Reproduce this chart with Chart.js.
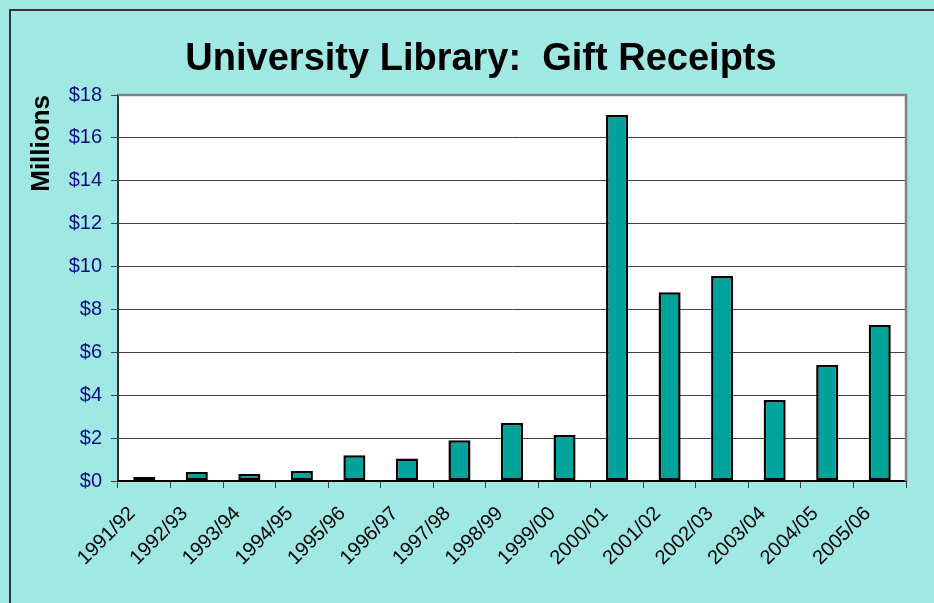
<!DOCTYPE html>
<html>
<head>
<meta charset="utf-8">
<script src="https://cdn.jsdelivr.net/npm/chart.js@4"></script>
<style>
  html, body { margin: 0; padding: 0; background: #a0e8e4; }
  #wrap { width: 934px; height: 603px; position: relative; }
</style>
</head>
<body>
<div id="wrap"><canvas id="canvas" width="934" height="603"></canvas></div>
<script>
// fiscal years and gift receipts in $ millions
var years = ['1991/92', '1992/93', '1993/94', '1994/95', '1995/96', '1996/97', '1997/98',
  '1998/99', '1999/00', '2000/01', '2001/02', '2002/03', '2003/04', '2004/05', '2005/06'];
var gifts = [0.19, 0.42, 0.33, 0.47, 1.2, 1.05, 1.9, 2.7, 2.15, 17.07, 8.8, 9.56, 3.78, 5.41, 7.28];
var yTicks = [0, 2, 4, 6, 8, 10, 12, 14, 16, 18];
var chartTitle = 'University Library:  Gift Receipts';

var bg = '#a0e8e4';
var fam = 'Liberation Sans, Arial, sans-serif';

// paint the background, outer frame, white plot area and the title
var frame = {
  id: 'frame',
  beforeDraw: function (chart) {
    var ctx = chart.ctx, a = chart.chartArea;
    ctx.save();
    ctx.fillStyle = bg;
    ctx.fillRect(0, 0, chart.width, chart.height);
    ctx.strokeStyle = '#333333';
    ctx.lineWidth = 2;
    ctx.beginPath();
    ctx.moveTo(10, chart.height + 5);
    ctx.lineTo(10, 10);
    ctx.lineTo(chart.width + 5, 10);
    ctx.stroke();
    ctx.fillStyle = '#ffffff';
    ctx.fillRect(a.left, a.top, a.right - a.left, a.bottom - a.top);
    ctx.restore();
  },
  afterDraw: function (chart) {
    var ctx = chart.ctx, a = chart.chartArea;
    ctx.save();
    ctx.strokeStyle = '#808080';
    ctx.lineWidth = 2.5;
    ctx.beginPath();
    ctx.moveTo(a.left, a.top);
    ctx.lineTo(a.right, a.top);
    ctx.lineTo(a.right, a.bottom);
    ctx.stroke();
    // title sits a bit right of the plot centre, like the original
    ctx.fillStyle = '#000000';
    ctx.font = 'bold 38px ' + fam;
    ctx.textAlign = 'center';
    ctx.textBaseline = 'alphabetic';
    ctx.fillText(chartTitle, 481, 70);
    ctx.restore();
  }
};

var ctx = document.getElementById('canvas').getContext('2d');
window.giftChart = new Chart(ctx, {
  type: 'bar',
  data: {
    labels: years,
    datasets: [{
      data: gifts,
      backgroundColor: '#00a39c',
      borderColor: '#000000',
      borderWidth: 2.5,
      borderSkipped: false,
      barPercentage: 0.42,
      categoryPercentage: 1.0
    }]
  },
  plugins: [frame],
  options: {
    responsive: false,
    animation: false,
    layout: { padding: { left: 22, right: 28, top: 95, bottom: 0 } },
    plugins: {
      legend: { display: false },
      tooltip: { enabled: false },
      title: { display: false }
    },
    scales: {
      y: {
        min: 0,
        max: 18,
        afterBuildTicks: function (scale) {
          scale.ticks = yTicks.map(function (v) { return { value: v }; });
        },
        afterFit: function (scale) { scale.width = 96; },
        ticks: {
          color: '#0a0a8a',
          font: { family: fam, size: 20 },
          padding: 9,
          callback: function (v) { return '$' + v; }
        },
        grid: { color: '#404040', lineWidth: 1, tickLength: 7 },
        border: { color: '#333333', width: 2 },
        title: {
          display: true,
          text: 'Millions',
          align: 'end',
          color: '#000000',
          font: { family: fam, size: 26, weight: 'bold' },
          padding: { top: 4, bottom: 4 }
        }
      },
      x: {
        afterFit: function (scale) { scale.height = 122; },
        ticks: {
          color: '#000000',
          font: { family: fam, size: 20 },
          minRotation: 45,
          maxRotation: 45,
          autoSkip: false,
          padding: 14,
          labelOffset: -12
        },
        grid: { drawOnChartArea: false, drawTicks: true, tickLength: 7, color: '#404040', offset: true },
        border: { color: '#000000', width: 2 }
      }
    }
  }
});
</script>
</body>
</html>
